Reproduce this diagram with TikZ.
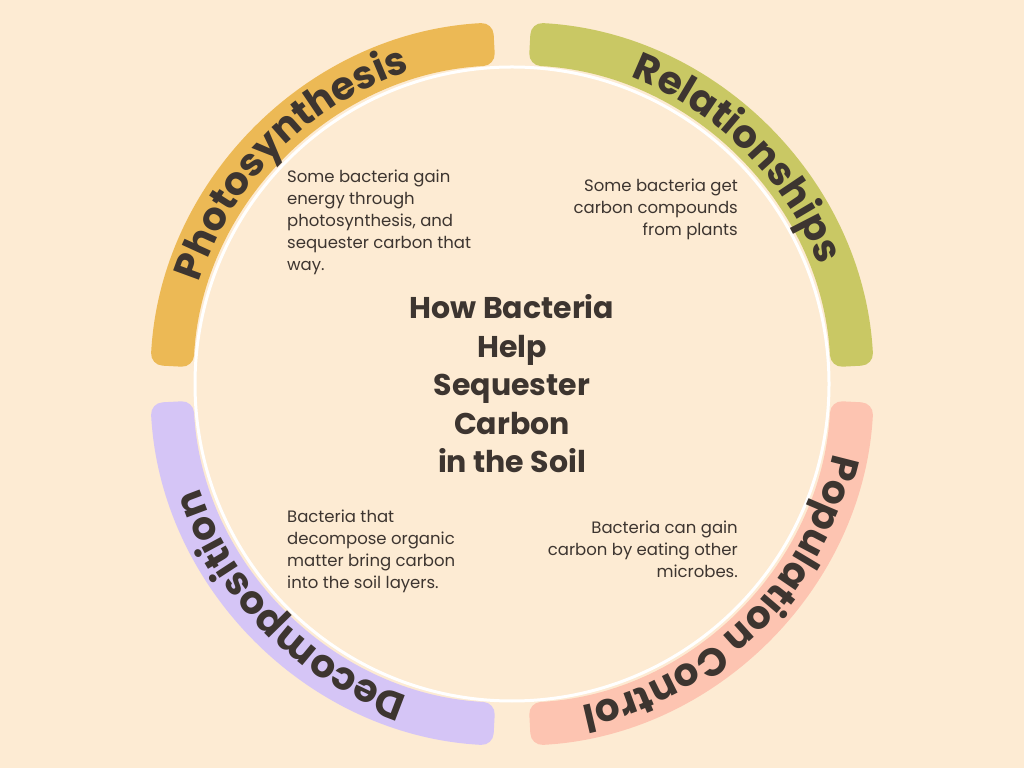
\documentclass[tikz,border=0pt]{standalone}
\usepackage{fontspec}
\setmainfont{Poppins}
\usetikzlibrary{decorations.text}
\definecolor{bg}{HTML}{FDEBD3}
\definecolor{cphoto}{HTML}{ECB955}
\definecolor{crel}{HTML}{C9C864}
\definecolor{cpop}{HTML}{FDC4B1}
\definecolor{cdec}{HTML}{D5C5F6}
\definecolor{ink}{HTML}{3D3530}
\tikzset{
  band/.style={rounded corners=12pt},
  body/.style={text=ink, font=\fontsize{16.5}{22}\selectfont, inner sep=0pt},
  arclabel/.style={decorate, decoration={text along path, text align=center,
     text color=ink, text={|\fontsize{39}{39}\selectfont\bfseries|#1}}}
}
\begin{document}
\begin{tikzpicture}[x=1pt,y=1pt]
\fill[bg] (0,0) rectangle (1024,768);
\useasboundingbox (0,0) rectangle (1024,768);
\begin{scope}[shift={(512,384)}]
\draw[white, line width=3pt] (0,0) circle (317);
\fill[cphoto,band] (177:362) arc (177:93:362) -- (93:319) arc (93:177:319) -- cycle;
\fill[crel,band] (87:362) arc (87:3:362) -- (3:319) arc (3:87:319) -- cycle;
\fill[cpop,band] (-3:362) arc (-3:-87:362) -- (-87:319) arc (-87:-3:319) -- cycle;
\fill[cdec,band] (-93:362) arc (-93:-177:362) -- (-177:319) arc (-177:-93:319) -- cycle;
\path[arclabel={Photosynthesis}] (177:329) arc (177:93:329);
\path[arclabel={Relationships}] (87:329) arc (87:3:329);
\path[arclabel={Population Control}] (-3:329) arc (-3:-87:329);
\path[arclabel={Decomposition}] (-93:329) arc (-93:-177:329);
\end{scope}
\node[text=ink, font=\fontsize{30}{38.5}\selectfont\bfseries, align=center] (title) at (512,384)
  {How Bacteria\\Help\\Sequester\\Carbon\\in the Soil};
\node[body, align=left, anchor=north west] (t1) at (287,598)
  {Some bacteria gain\\energy through\\photosynthesis, and\\sequester carbon that\\way.};
\node[body, align=right, anchor=north east] (t2) at (738,589)
  {Some bacteria get\\carbon compounds\\from plants};
\node[body, align=left, anchor=north west] (t3) at (287,258)
  {Bacteria that\\decompose organic\\matter bring carbon\\into the soil layers.};
\node[body, align=right, anchor=north east] (t4) at (738,247)
  {Bacteria can gain\\carbon by eating other\\microbes.};
\end{tikzpicture}
\end{document}
